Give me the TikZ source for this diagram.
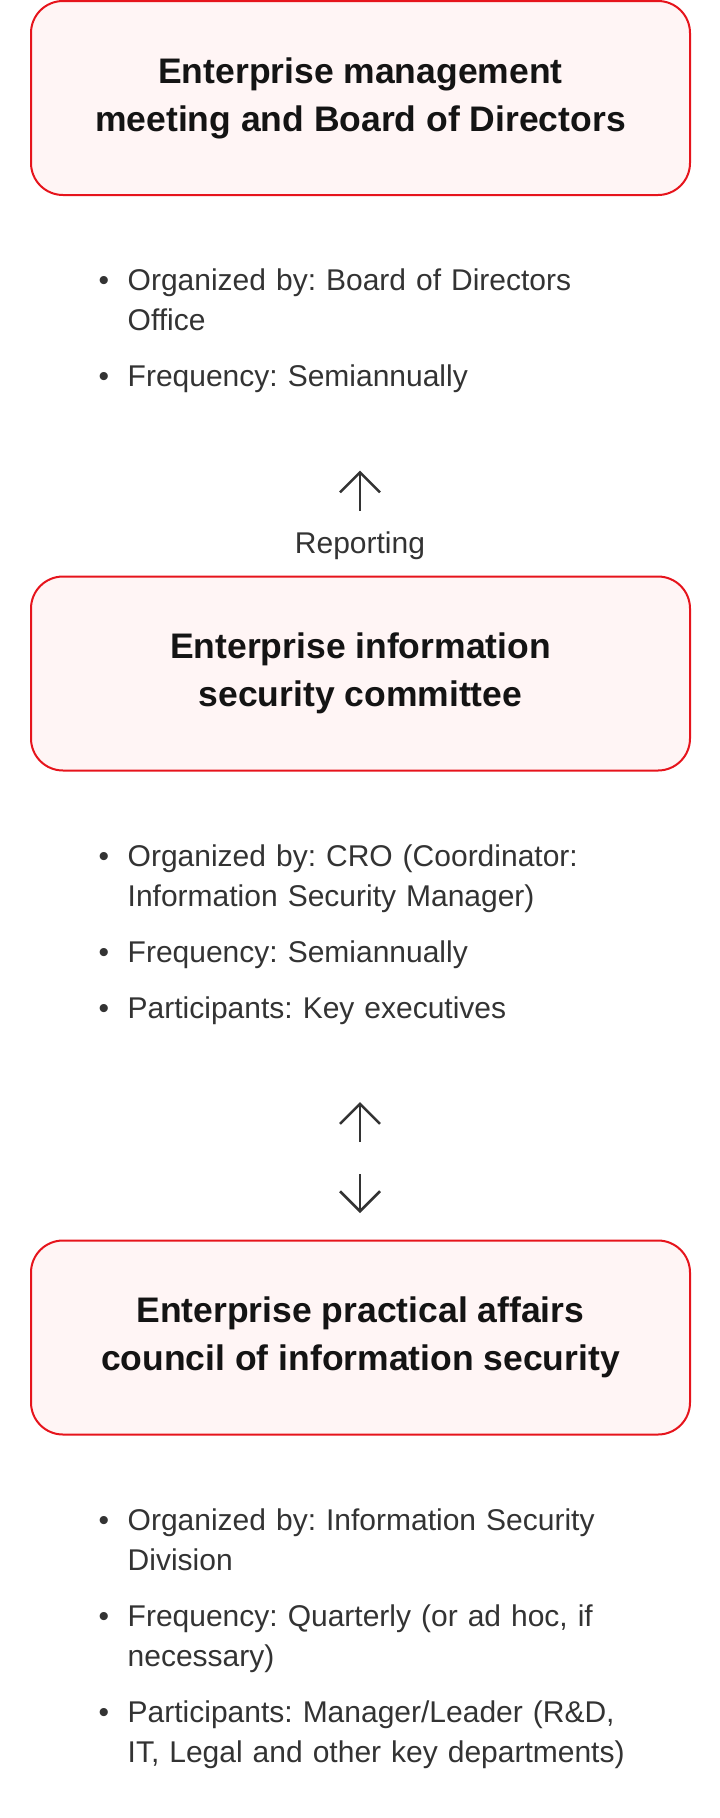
\documentclass[tikz,border=0pt]{standalone}
\usepackage{fontspec}
\setmainfont{Liberation Sans}
\frenchspacing
\usepackage{tikz}
\usetikzlibrary{positioning,arrows.meta}
\definecolor{lgred}{HTML}{E6141C}
\definecolor{lgpink}{HTML}{FFF5F5}
\definecolor{inkgray}{HTML}{333333}
\tikzset{
  orgbox/.style={rectangle, rounded corners=32pt, draw=lgred, fill=lgpink, line width=2pt,
                 minimum width=659pt, minimum height=194pt, align=center,
                 font=\fontsize{35.5}{48}\selectfont\bfseries, text=black!92},
  dot/.style={inner sep=0pt, anchor=base, text=inkgray, font=\fontsize{30}{40}\selectfont},
  item/.style={inner sep=0pt, anchor=base west, text width=560pt, align=left,
               text=inkgray, font=\fontsize{30}{40}\selectfont},
  note/.style={inner sep=0pt, anchor=base, text=inkgray, font=\fontsize{30}{40}\selectfont},
  fwd/.style={-{Straight Barb[length=20pt,width=40pt]}, line width=2.5pt, draw=inkgray},
}

\begin{document}
\begin{tikzpicture}[x=1pt,y=-1pt]
  \useasboundingbox (0,0) rectangle (720,1818);

  \node[orgbox] (board) at (360.5,98) {Enterprise management\\meeting and Board of Directors};
  \node[orgbox] (committee) at (360.5,673.5) {Enterprise information\\security committee};
  \node[orgbox] (council) at (360.5,1337.5) {Enterprise practical affairs\\council of information security};

  % board details
  \node[dot] (dotA1) at (104,290) {•};
  \node[item] (orgA) at (127.5,290) {Organized by: Board of Directors\newline Office};
  \node[dot] (dotA2) at (104,386) {•};
  \node[item] (freqA) at (127.5,386) {Frequency: Semiannually};

  \coordinate (repTail) at (360,510.5);
  \coordinate (repTip) at (360,470.5);
  \draw[fwd] (repTail) -- (repTip);
  \node[note] (report) at (360,553) {Reporting};

  % committee details
  \node[dot] (dotB1) at (104,866) {•};
  \node[item] (orgB) at (127.5,866) {Organized by: CRO (Coordinator:\newline Information Security Manager)};
  \node[dot] (dotB2) at (104,962) {•};
  \node[item] (freqB) at (127.5,962) {Frequency: Semiannually};
  \node[dot] (dotB3) at (104,1018) {•};
  \node[item] (partB) at (127.5,1018) {Participants: Key executives};

  \coordinate (upTail) at (360,1142);
  \coordinate (upTip) at (360,1102);
  \coordinate (downTail) at (360,1174);
  \coordinate (downTip) at (360,1213);
  \draw[fwd] (upTail) -- (upTip);
  \draw[fwd] (downTail) -- (downTip);

  % council details
  \node[dot] (dotC1) at (104,1530) {•};
  \node[item] (orgC) at (127.5,1530) {Organized by: Information Security\newline Division};
  \node[dot] (dotC2) at (104,1626) {•};
  \node[item] (freqC) at (127.5,1626) {Frequency: Quarterly (or ad hoc, if\newline necessary)};
  \node[dot] (dotC3) at (104,1722) {•};
  \node[item] (partC) at (127.5,1722) {Participants: Manager/Leader (R\&D,\newline IT, Legal and other key departments)};
\end{tikzpicture}
\end{document}
